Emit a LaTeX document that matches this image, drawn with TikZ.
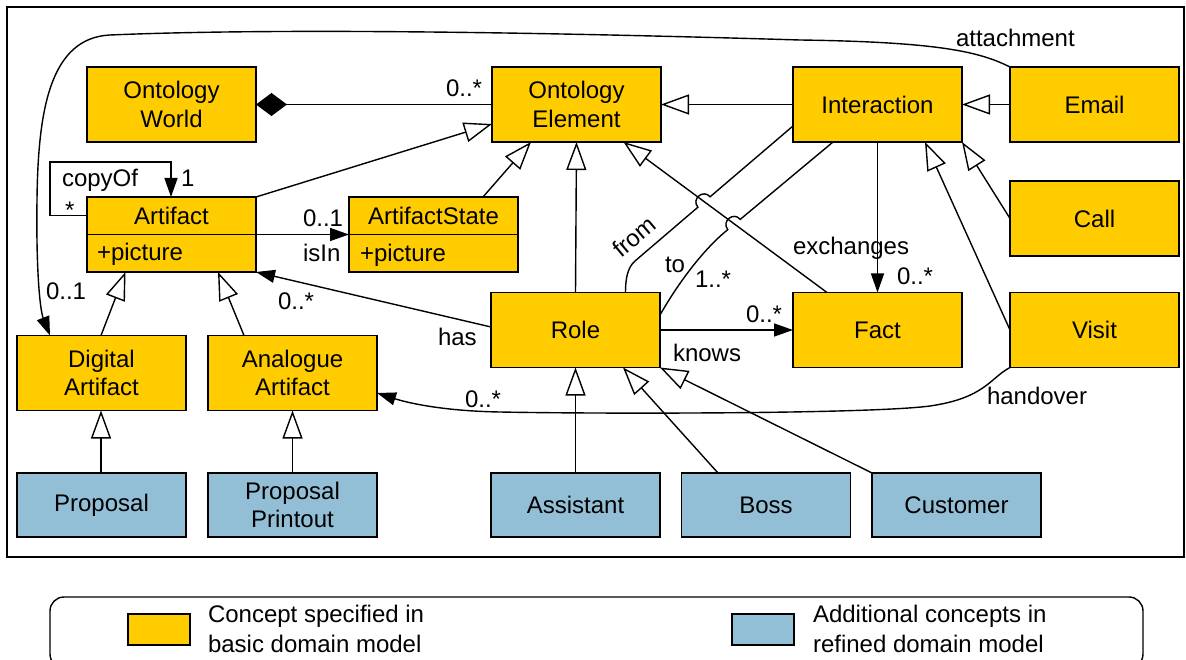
\documentclass[tikz,border=0pt]{standalone}
\usepackage{fontspec}
\setmainfont{Liberation Sans}
\usetikzlibrary{arrows.meta,calc}
\definecolor{conceptfill}{RGB}{255,204,0}
\definecolor{refinedfill}{RGB}{147,191,214}

\begin{document}
\begin{tikzpicture}[x=1pt,y=-1pt,
  line width=1.4pt,
  every node/.style={font=\fontsize{24}{28.5}\selectfont, inner sep=0pt, outer sep=0pt},
  concept/.style={draw, line width=1.8pt, fill=conceptfill, align=center,
    minimum width=169pt, minimum height=75pt},
  refined/.style={draw, line width=1.8pt, fill=refinedfill, align=center,
    minimum width=169pt, minimum height=64pt},
  gen/.style={-{Triangle[length=28pt,width=20pt,fill=white]}},
  nav/.style={-{Triangle[length=19pt,width=13pt]}},
  comp/.style={{Diamond[length=31pt,width=23pt]}-},
  lbl/.style={anchor=base west},
]
\useasboundingbox (0,0) rectangle (1186,660);

% frame of the model
\draw (7,7) rectangle (1184,557);

% basic domain concepts
\node[concept] (ow)    at (171.5,104.5) {Ontology\\World};
\node[concept] (oe)    at (576.5,104.5) {Ontology\\Element};
\node[concept] (inter) at (877.5,104.5) {Interaction};
\node[concept] (email) at (1094.5,104.5) {Email};
\node[concept] (call)  at (1094.5,218.5) {Call};
\node[concept] (art)   at (171.5,234.5) {};
\node[concept] (ast)   at (433.5,234.5) {};
\node[concept] (role)  at (575.5,330) {Role};
\node[concept] (fact)  at (877.5,330) {Fact};
\node[concept] (visit) at (1094.5,330) {Visit};
\node[concept] (da)    at (101.5,373) {Digital\\Artifact};
\node[concept] (aa)    at (292.5,373) {Analogue\\Artifact};

% class compartments
\draw[line width=1.8pt] (art.west) -- (art.east);
\draw[line width=1.8pt] (ast.west) -- (ast.east);
\node (artname) at (171.5,216) {Artifact};
\node[anchor=west] (artattr) at (97,254) {+picture};
\node (astname) at (433.5,216) {ArtifactState};
\node[anchor=west] (astattr) at (360,255) {+picture};

% refined concepts
\node[refined] (proposal)  at (101.5,505) {Proposal};
\node[refined] (printout)  at (292.5,505) {Proposal\\Printout};
\node[refined] (assistant) at (575.5,505) {Assistant};
\node[refined] (boss)      at (766,505) {Boss};
\node[refined] (customer)  at (956.5,505) {Customer};

% composition
\draw[comp] (ow.east) -- (oe.west);
\node[lbl] (m1) at (446,97) {0..*};

% generalizations
\draw[gen] (inter.west) -- (oe.east);
\draw[gen] (email.west) -- (inter.east);
\draw[gen] (art.north east) -- ($(oe.west)+(0,19.5)$);
\draw[gen] ($(ast.north)+(49.5,0)$) -- ($(oe.south)+(-45.5,0)$);
\draw[gen] (role.north) -- (oe.south);
\draw[gen] ($(fact.north)+(-50.5,0)$) -- ($(oe.south)+(47,0)$);
\draw[gen] (call.west) -- (inter.south east);
\draw[gen] (visit.west) -- ($(inter.south)+(47.5,0)$);
\draw[gen] ($(da.north)+(-0.5,0)$) -- ($(art.south)+(-46,0)$);
\draw[gen] ($(aa.north)+(-48.5,0)$) -- ($(art.south)+(46.5,0)$);
\draw[gen] ($(proposal.north)+(-0.5,0)$) -- ($(da.south)+(-0.5,0)$);
\draw[gen] (printout.north) -- (aa.south);
\draw[gen] (assistant.north) -- (role.south);
\draw[gen] ($(boss.north)+(-48,0)$) -- ($(role.south)+(47.5,0)$);
\draw[gen] (customer.north west) -- (role.south east);

% copyOf self association
\coordinate (loop) at (50,162);
\draw[nav] ($(art.west)+(0,-19)$) -| (loop) -| ($(art.north)+(-0.5,0)$);
\node[lbl] (copyof) at (62,187) {copyOf};
\node[lbl] (m2) at (181,187) {1};
\node[lbl] (m3) at (65,219) {*};

% isIn
\draw[nav] (art.east) -- (ast.west);
\node[lbl] (m4) at (303,227) {0..1};
\node[lbl] (isin) at (303,262) {isIn};

% has
\draw[nav] ($(role.west)+(0,-3)$) -- (art.south east);
\node[lbl] (m5) at (278,310) {0..*};
\node[lbl] (has) at (438,345) {has};

% knows
\draw[nav] (role.east) -- (fact.west);
\node[lbl] (m6) at (746,323) {0..*};
\node[lbl] (knows) at (673,361) {knows};

% exchanges
\draw[nav] (inter.south) -- (fact.north);
\node[lbl] (exch) at (793,255) {exchanges};
\node[lbl] (m7) at (897,285) {0..*};

% from / to, hopping over the Fact generalization
\draw ($(inter.west)+(0,21.5)$) -- (710.1,196.8)
  .. controls (703.2,188.7) and (691.0,199.1) .. (697.9,207.2)
  -- (635,261) .. controls (627,268) and (625.5,280) .. ($(role.north)+(50,0)$);
\node[rotate=40] (from) at (634,237) {from};
\draw ($(inter.south)+(-44.5,0)$) -- (740.2,219.4)
  .. controls (733.5,211.2) and (721.1,221.4) .. (727.8,229.6)
  .. controls (705,248) and (680,280) .. ($(role.east)+(0,-15)$);
\node[lbl] (to) at (665,273) {to};
\node[lbl] (m8) at (695,288) {1..*};

% attachment
\draw[nav] (email.north west) .. controls (980,52) and (940,42) .. (800,40)
  .. controls (600,34) and (300,27) .. (110,35)
  .. controls (50,38) and (38,110) .. (37,200)
  .. controls (36,270) and (40,310) .. ($(da.north west)+(33,0)$);
\node[lbl] (attach) at (956,47) {attachment};
\node[lbl] (m9) at (46,300) {0..1};

% handover
\draw[nav] (visit.south west) .. controls (990,378) and (985,398) .. (930,406)
  .. controls (870,414) and (600,414) .. (500,412)
  .. controls (440,411) and (405,402) .. ($(aa.east)+(0,20)$);
\node[lbl] (handover) at (987,404) {handover};
\node[lbl] (m10) at (465,407) {0..*};

% legend
\draw[rounded corners=14pt] (50,597) rectangle (1143,668);
\node[draw, line width=1.8pt, fill=conceptfill, minimum width=62pt, minimum height=31pt]
  (keyc) at (159,629.5) {};
\node[anchor=west, align=left, font=\fontsize{24}{30}\selectfont] (keyct) at (208,629)
  {Concept specified in\\basic domain model};
\node[draw, line width=1.8pt, fill=refinedfill, minimum width=62pt, minimum height=31pt]
  (keyr) at (763,629.5) {};
\node[anchor=west, align=left, font=\fontsize{24}{30}\selectfont] (keyrt) at (813,629)
  {Additional concepts in\\refined domain model};
\end{tikzpicture}
\end{document}
